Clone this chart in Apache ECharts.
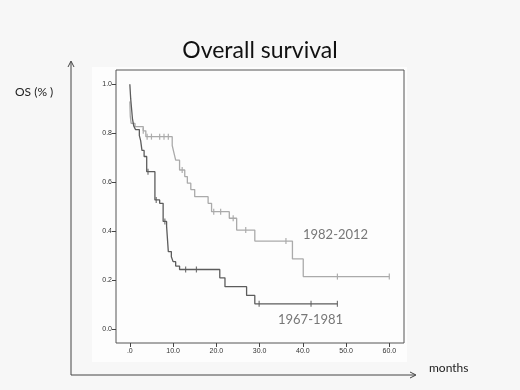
<!DOCTYPE html>
<html>
<head>
<meta charset="utf-8">
<script src="https://cdn.jsdelivr.net/npm/echarts@6/dist/echarts.min.js"></script>
<style>
  html, body { margin: 0; padding: 0; background: #f7f7f7; }
  #chart { width: 520px; height: 390px; }
</style>
</head>
<body>
<div id="chart"></div>
<script>
// 1967-1981 (dark curve): step times (months) and survival after each step
var darkTimes = [0, 0.2, 0.4, 0.6, 0.9, 1.3, 2.2, 2.5, 2.8, 3.3, 3.9, 5.8, 6.9, 7.7, 8.5, 8.9, 9.6, 10.0, 10.6, 11.5, 20.8, 22.0, 27.0, 28.9, 48];
var darkSurv  = [1.0, 0.94, 0.90, 0.86, 0.83, 0.815, 0.79, 0.77, 0.73, 0.705, 0.643, 0.528, 0.514, 0.44, 0.42, 0.317, 0.296, 0.276, 0.258, 0.244, 0.21, 0.174, 0.138, 0.104, 0.104];
var darkCensorTimes = [4.2, 6.1, 8.1, 12.9, 15.4, 29.9, 41.9, 48];
var darkCensorSurv  = [0.643, 0.528, 0.44, 0.244, 0.244, 0.104, 0.104, 0.104];

// 1982-2012 (light curve)
var lightTimes = [0, 0.1, 0.3, 1.2, 3.1, 3.7, 9.8, 10.2, 10.6, 11.5, 12.7, 13.3, 14.1, 15.0, 18.1, 18.9, 23.0, 24.7, 28.9, 37.6, 40.1, 60];
var lightSurv  = [0.93, 0.87, 0.84, 0.827, 0.81, 0.786, 0.75, 0.72, 0.69, 0.65, 0.623, 0.596, 0.57, 0.541, 0.514, 0.48, 0.453, 0.405, 0.36, 0.287, 0.215, 0.215];
var lightCensorTimes = [3.1, 4.0, 5.0, 6.9, 7.9, 8.9, 12.1, 19.4, 21.0, 23.9, 26.8, 36.1, 48, 60];
var lightCensorSurv  = [0.81, 0.786, 0.786, 0.786, 0.786, 0.786, 0.65, 0.48, 0.48, 0.453, 0.405, 0.36, 0.215, 0.215];

var xTicks = [0, 10, 20, 30, 40, 50, 60];
var yTicks = [0, 0.2, 0.4, 0.6, 0.8, 1.0];

function pairs(xs, ys) {
  return xs.map(function (x, i) { return [x, ys[i]]; });
}

var myChart = echarts.init(document.getElementById('chart'));
var option = {
  backgroundColor: '#f7f7f7',
  animation: false,
  title: {
    text: 'Overall survival',
    left: 'center',
    top: 34,
    textStyle: { fontFamily: 'Lato', fontWeight: 'normal', fontSize: 23, color: '#111' }
  },
  graphic: [
    // pasted chart background
    { type: 'rect', z: -10, shape: { x: 92, y: 67, width: 315, height: 295 }, style: { fill: '#fdfdfd' } },
    // outer axes with arrows
    { type: 'line', shape: { x1: 71, y1: 375, x2: 71, y2: 62 }, style: { stroke: '#444', lineWidth: 1 } },
    { type: 'polyline', shape: { points: [[68, 67], [71, 61], [74, 67]] }, style: { stroke: '#444', fill: null, lineWidth: 1 } },
    { type: 'line', shape: { x1: 71, y1: 375, x2: 415, y2: 375 }, style: { stroke: '#444', lineWidth: 1 } },
    { type: 'polyline', shape: { points: [[410, 372], [416, 375], [410, 378]] }, style: { stroke: '#444', fill: null, lineWidth: 1 } },
    { type: 'text', x: 15, y: 86, style: { text: 'OS (% )', font: '12px Lato', fill: '#222' } },
    { type: 'text', x: 429, y: 362, style: { text: 'months', font: '12px Lato', fill: '#222' } },
    { type: 'text', x: 303, y: 228, style: { text: '1982-2012', font: '13px Lato', fill: '#777' } },
    { type: 'text', x: 278, y: 313, style: { text: '1967-1981', font: '13px Lato', fill: '#777' } }
  ],
  grid: {
    left: 116, right: 116, top: 70, bottom: 47,
    show: true, backgroundColor: '#fdfdfd', borderColor: '#555', borderWidth: 1
  },
  xAxis: {
    type: 'value', min: -3.2, max: 63.4,
    splitLine: { show: false },
    axisLine: { show: false, onZero: false },
    axisTick: { show: true, length: 4, lineStyle: { color: '#444' }, customValues: xTicks },
    axisLabel: {
      customValues: xTicks, fontSize: 7, color: '#333', fontFamily: 'Liberation Sans', margin: 5,
      formatter: function (v) { return v === 0 ? '.0' : v.toFixed(1); }
    }
  },
  yAxis: {
    type: 'value', min: -0.056, max: 1.058,
    splitLine: { show: false },
    axisLine: { show: false, onZero: false },
    axisTick: { show: true, length: 4, lineStyle: { color: '#444' }, customValues: yTicks },
    axisLabel: {
      customValues: yTicks, fontSize: 7, color: '#333', fontFamily: 'Liberation Sans', margin: 4,
      formatter: function (v) { return v.toFixed(1); }
    }
  },
  series: [
    {
      name: '1982-2012', type: 'line', step: 'end', symbol: 'none',
      lineStyle: { color: '#aaaaaa', width: 1.3 },
      data: pairs(lightTimes, lightSurv)
    },
    {
      name: '1967-1981', type: 'line', step: 'end', symbol: 'none',
      lineStyle: { color: '#5c5c5c', width: 1.3 },
      data: pairs(darkTimes, darkSurv)
    },
    {
      type: 'scatter', symbol: 'rect', symbolSize: [1.2, 6],
      itemStyle: { color: '#999' },
      data: pairs(lightCensorTimes, lightCensorSurv)
    },
    {
      type: 'scatter', symbol: 'rect', symbolSize: [1.2, 6],
      itemStyle: { color: '#555' },
      data: pairs(darkCensorTimes, darkCensorSurv)
    }
  ]
};
myChart.setOption(option);
</script>
</body>
</html>
